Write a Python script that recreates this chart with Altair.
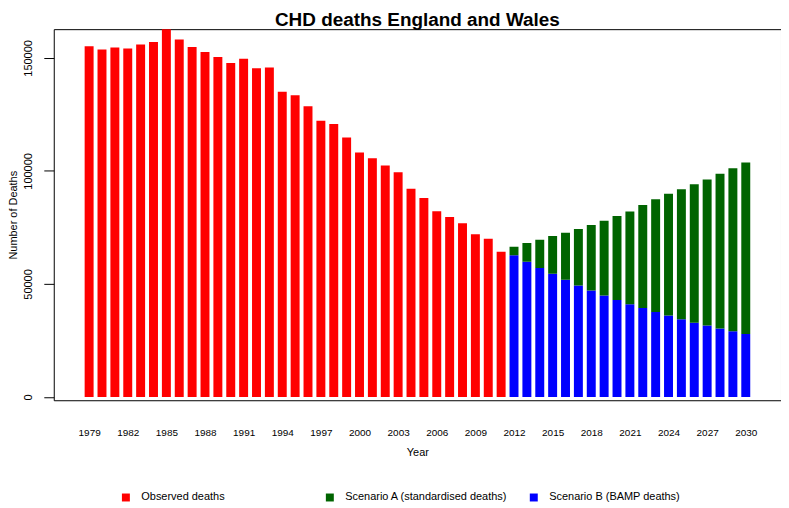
import altair as alt
import pandas as pd

# ---- data ----
obs_years = list(range(1979, 2012))
observed = [155100, 153700, 154600, 154100, 155900, 157000, 163000, 158100,
            154800, 152600, 150400, 147700, 149600, 145400, 145800, 135000,
            133500, 128600, 122200, 120700, 114800, 108100, 105600, 102400,
            99400, 92100, 88000, 82200, 79600, 76800, 72000, 70000, 64200]

proj_years = list(range(2012, 2031))
scenario_a = [66500, 68100, 69600, 71200, 72700, 74300, 76100, 78000, 80000,
              82100, 84900, 87500, 89900, 91900, 94100, 96200, 98700, 101200,
              103700]
scenario_b = [62700, 59800, 57100, 54500, 51900, 49300, 47100, 44900, 42900,
              41000, 39400, 37600, 36000, 34400, 32800, 31600, 30300, 29100,
              27900]

series_names = ["Observed deaths", "Scenario A (standardised deaths)",
                "Scenario B (BAMP deaths)"]
series_colors = ["#FF0000", "#006400", "#0000FF"]
x_tick_years = list(range(1979, 2031, 3))
y_ticks = [0, 50000, 100000, 150000]

rows = []
for yr, v in zip(obs_years, observed):
    rows.append({"series": series_names[0], "year": yr, "lo": 0, "hi": v})
for yr, a, b in zip(proj_years, scenario_a, scenario_b):
    rows.append({"series": series_names[2], "year": yr, "lo": 0, "hi": b})
    rows.append({"series": series_names[1], "year": yr, "lo": b, "hi": a})
df = pd.DataFrame(rows)

FONT = "Liberation Sans"

chart = alt.Chart(df).mark_bar(size=9, clip=True).encode(
    x=alt.X("year:Q",
            scale=alt.Scale(domain=[1976.64, 2032.35], nice=False, zero=False),
            axis=alt.Axis(values=x_tick_years, format="d", ticks=False,
                          domain=False, grid=False, labelPadding=27,
                          labelFontSize=10, labelColor="#000",
                          labelFlush=False, labelOverlap=False,
                          title="Year", titleFontSize=11, titleFontWeight="normal",
                          titleColor="#000", titleY=53, titleBaseline="middle")),
    y=alt.Y("lo:Q",
            scale=alt.Scale(domain=[-1450, 162700], nice=False, zero=False),
            axis=alt.Axis(values=y_ticks, format="d", grid=False, domain=False,
                          tickSize=10, tickColor="#000", labelAngle=270,
                          labelAlign="center", labelBaseline="bottom",
                          labelPadding=10, labelFontSize=11, labelColor="#000",
                          title="Number of Deaths", titleFontSize=11,
                          titleFontWeight="normal", titleColor="#000",
                          titleX=-40, titleY=186.5, titleBaseline="middle",
                          titleAlign="center")),
    y2="hi:Q",
    color=alt.Color("series:N",
                    scale=alt.Scale(domain=series_names, range=series_colors),
                    legend=alt.Legend(title=None, orient="none", legendX=67,
                                      legendY=465, direction="horizontal",
                                      columns=3, gridAlign="all",
                                      columnPadding=20, labelOffset=10,
                                      labelLimit=0,
                                      symbolType="square", symbolSize=64,
                                      symbolStrokeWidth=0, labelFontSize=11,
                                      labelColor="#000", padding=0)),
).properties(
    width=731,
    height=373,
    title=alt.TitleParams("CHD deaths England and Wales", fontSize=19,
                          fontWeight="bold", font=FONT, anchor="middle",
                          baseline="alphabetic", offset=5, dy=21, color="#000"),
    autosize=alt.AutoSizeParams(type="none"),
    padding={"left": 46, "top": 20, "right": 0, "bottom": 102},
).configure(font=FONT).configure_view(stroke="#000", strokeWidth=1)

chart.save("out.html", embed_options={"renderer": "svg", "actions": False})
